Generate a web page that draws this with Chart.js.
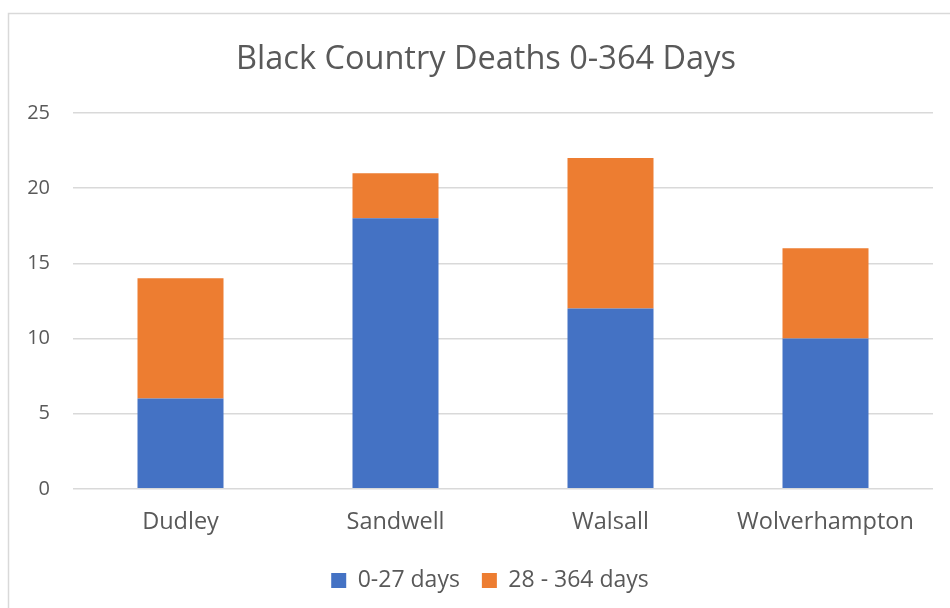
<!DOCTYPE html>
<html><head><meta charset="utf-8">
<script src="https://cdn.jsdelivr.net/npm/chart.js@4"></script>
<style>html,body{margin:0;padding:0;background:#fff;}#wrap{position:relative;width:950px;height:608px;}</style>
</head><body><div id="wrap"><canvas id="c" width="950" height="608"></canvas></div>
<script>
const categories = ["Dudley", "Sandwell", "Walsall", "Wolverhampton"];
const early = [6, 18, 12, 10];
const late = [8, 3, 10, 6];
const seriesNames = ["0-27 days", "28 - 364 days"];
const titleText = "Black Country Deaths 0-364 Days";
const FONT = "'Open Sans', sans-serif";
const TXT = "#595959";

const deco = {
  id: 'deco',
  afterLayout(chart) {
    const lg = chart.legend;
    if (lg) { lg.left += 23.5; lg.right += 23.5; }
  },
  beforeDraw(chart) {
    const ctx = chart.ctx;
    ctx.save();
    ctx.fillStyle = '#fff';
    ctx.fillRect(0, 0, chart.width, chart.height);
    ctx.strokeStyle = '#d9d9d9';
    ctx.lineWidth = 1.5;
    ctx.strokeRect(8.5, 13.5, 1000, 700);
    ctx.fillStyle = TXT;
    ctx.font = "32.5px " + FONT;
    ctx.textAlign = 'center';
    ctx.textBaseline = 'alphabetic';
    ctx.fillText(titleText, 486, 69);
    ctx.restore();
  }
};

new Chart(document.getElementById('c'), {
  type: 'bar',
  data: {
    labels: categories,
    datasets: [
      { label: seriesNames[0], data: early, backgroundColor: '#4472C4', barPercentage: 0.4, categoryPercentage: 1 },
      { label: seriesNames[1], data: late, backgroundColor: '#ED7D31', barPercentage: 0.4, categoryPercentage: 1 }
    ]
  },
  options: {
    responsive: false,
    animation: false,
    devicePixelRatio: 1,
    layout: { padding: { top: 113, left: 0, right: 17, bottom: 6 } },
    plugins: {
      title: { display: false },
      tooltip: { enabled: false },
      legend: {
        position: 'bottom',
        labels: { boxWidth: 15, boxHeight: 15, color: TXT, font: { family: FONT, size: 23 }, padding: 22 }
      }
    },
    scales: {
      x: {
        stacked: true,
        grid: { display: false },
        border: { display: false },
        ticks: { color: TXT, font: { family: FONT, size: 23.5 }, padding: 11 }
      },
      y: {
        stacked: true,
        min: 0, max: 25,
        afterFit(s) { s.width = 73; },
        grid: { color: '#d9d9d9', lineWidth: 1.5, drawTicks: false },
        border: { display: false },
        ticks: { stepSize: 5, color: TXT, font: { family: FONT, size: 20 }, padding: 23 }
      }
    }
  },
  plugins: [deco]
});
</script></body></html>
